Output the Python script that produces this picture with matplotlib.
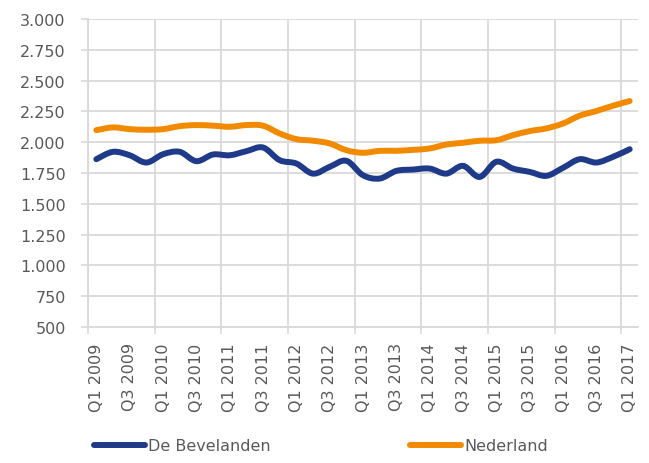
import numpy as np
import matplotlib
matplotlib.use('Agg')
import matplotlib.pyplot as plt
from matplotlib.path import Path
from matplotlib.patches import PathPatch
from matplotlib.lines import Line2D
from matplotlib.ticker import FixedLocator, FuncFormatter

# quarterly values, Q1 2009 .. Q1 2017
quarters = ['Q{} {}'.format(q, y) for y in range(2009, 2018) for q in (1, 2, 3, 4)][:33]

bevelanden = [1862, 1922, 1894, 1835, 1902, 1922, 1846, 1900, 1894, 1927, 1957,
              1854, 1827, 1745, 1800, 1849, 1732, 1705, 1767, 1778, 1786, 1745,
              1808, 1718, 1841, 1786, 1759, 1727, 1792, 1862, 1835, 1881, 1943]

nederland = [2098, 2120, 2106, 2101, 2106, 2130, 2139, 2134, 2125, 2139, 2134,
             2071, 2025, 2012, 1990, 1935, 1914, 1930, 1930, 1938, 1949, 1981,
             1995, 2012, 2016, 2057, 2090, 2112, 2152, 2215, 2253, 2296, 2334]

grey = '#d9d9d9'
textcol = '#595959'
blue = '#1f3a89'
orange = '#f28a00'
lw = 4.3
plt.rcParams['font.family'] = 'DejaVu Sans'
plt.rcParams['font.size'] = 11.5


def smooth_path(xs, ys):
    # excel-style smoothed line: cubic bezier through every data point
    pts = np.column_stack([xs, ys]).astype(float)
    verts = [pts[0]]
    codes = [Path.MOVETO]
    n = len(pts)
    for i in range(n - 1):
        p0 = pts[max(i - 1, 0)]
        p1 = pts[i]
        p2 = pts[i + 1]
        p3 = pts[min(i + 2, n - 1)]
        verts += [p1 + (p2 - p0) / 6.0, p2 - (p3 - p1) / 6.0, p2]
        codes += [Path.CURVE4] * 3
    return Path(verts, codes)


fig = plt.figure(figsize=(6.49, 4.64), dpi=100)
ax = fig.add_axes([88/649, 1-328/464, 550/649, 308/464])

x = np.arange(len(quarters))
for vals, col in [(bevelanden, blue), (nederland, orange)]:
    ax.add_patch(PathPatch(smooth_path(x, vals), fill=False, edgecolor=col, lw=lw,
                           capstyle='round', joinstyle='round', zorder=3))

ax.set_xlim(-0.5, len(quarters) - 0.5)
ax.set_ylim(500, 3000)

# labels on every other quarter, grid every 4 quarters between categories
ax.set_xticks(x[::2])
ax.set_xticklabels(quarters[::2], rotation=90, color=textcol)
ax.xaxis.set_minor_locator(FixedLocator(np.arange(-0.5, len(quarters), 4)))
ax.tick_params(axis='x', which='major', length=0, pad=11)
ax.tick_params(axis='x', which='minor', length=5, width=1.2, color=grey)
ax.grid(axis='x', which='minor', color=grey, lw=1.3)

ax.set_yticks(np.arange(500, 3001, 250))
ax.yaxis.set_major_formatter(FuncFormatter(lambda v, p: '{:,}'.format(int(v)).replace(',', '.')))
ax.tick_params(axis='y', length=5, width=1.2, color=grey, labelcolor=textcol, pad=11)
ax.grid(axis='y', color=grey, lw=1.3)
ax.set_axisbelow(True)

for s in ['top', 'right']:
    ax.spines[s].set_visible(False)
for s in ['left', 'bottom']:
    ax.spines[s].set_color(grey)
    ax.spines[s].set_linewidth(1.3)

handles = [Line2D([], [], color=blue, lw=lw, solid_capstyle='round'),
           Line2D([], [], color=orange, lw=lw, solid_capstyle='round')]
leg = fig.legend(handles, ['De Bevelanden', 'Nederland'], loc='center left',
                 bbox_to_anchor=(94/649, 1-447/464), ncol=2, frameon=False,
                 borderpad=0, borderaxespad=0, handlelength=3.2, handletextpad=0.2,
                 columnspacing=8.7, fontsize=11.5)
for t in leg.get_texts():
    t.set_color(textcol)

fig.savefig('out.png', dpi=100)
